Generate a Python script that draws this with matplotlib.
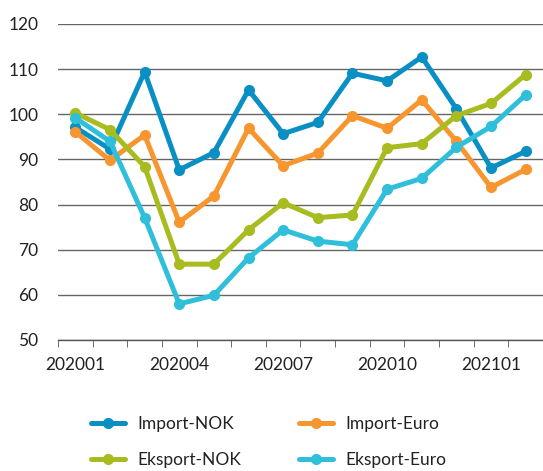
import numpy as np
import matplotlib
matplotlib.use("Agg")
import matplotlib.pyplot as plt

months = ["202001", "202002", "202003", "202004", "202005", "202006", "202007",
          "202008", "202009", "202010", "202011", "202012", "202101", "202102"]

import_nok = [97.1, 92.3, 109.4, 87.7, 91.5, 105.4, 95.7, 98.2, 109.1, 107.4, 112.7, 101.2, 88.1, 91.8]
import_euro = [96.1, 89.8, 95.4, 76.1, 81.9, 96.9, 88.6, 91.4, 99.7, 96.9, 103.2, 94.0, 83.8, 87.8]
eksport_nok = [100.3, 96.6, 88.4, 66.8, 66.8, 74.4, 80.4, 77.1, 77.7, 92.6, 93.5, 99.7, 102.4, 108.8]
eksport_euro = [99.2, 94.0, 77.1, 58.0, 59.9, 68.2, 74.4, 71.9, 71.1, 83.4, 85.8, 92.7, 97.3, 104.3]

series = [
    ("Import-NOK", import_nok, "#0a8fc4"),
    ("Import-Euro", import_euro, "#f7962f"),
    ("Eksport-NOK", eksport_nok, "#a8bc1f"),
    ("Eksport-Euro", eksport_euro, "#2fbfdb"),
]

plt.rcParams['font.family'] = ['Lato', 'DejaVu Sans']
txt = "#222222"

fig = plt.figure(figsize=(5.43, 4.71), dpi=100)
ax = fig.add_axes([58/543, 1 - 340/471, 1 - 58/543, (340 - 24)/471])

x = np.arange(len(months))
lines = {}
for name, vals, col in series:
    lines[name], = ax.plot(x, vals, color=col, lw=3.6, marker="o", ms=7, label=name,
                           solid_capstyle="round", zorder=3)

ax.set_xlim(-0.5, 13.12)
ax.set_ylim(50, 120)
ax.set_yticks(range(50, 121, 10))
ax.grid(axis="y", color="#666666", lw=1)
ax.set_axisbelow(True)

ax.set_xticks(x[::3])
ax.set_xticklabels(months[::3])
ax.set_xticks(np.arange(-0.5, 14, 1), minor=True)
ax.tick_params(axis="x", which="major", length=0, pad=12, labelsize=12.5, colors=txt)
ax.tick_params(axis="x", which="minor", length=5, color="#555555", direction="out")
ax.tick_params(axis="y", length=0, pad=14, labelsize=12.5, colors=txt)

for s in ["left", "right", "top"]:
    ax.spines[s].set_visible(False)
ax.spines["bottom"].set_color("#555555")
ax.spines["bottom"].set_linewidth(1)

# row-wise order: matplotlib fills legend columns first
order = ["Import-NOK", "Eksport-NOK", "Import-Euro", "Eksport-Euro"]
leg = fig.legend([lines[n] for n in order], order, loc="upper left",
                 bbox_to_anchor=(75/543, 1 - 400/471), ncol=2,
                 frameon=False, fontsize=12.5, handlelength=2.0, handletextpad=0.7,
                 columnspacing=3.3, labelspacing=1.15)
for t in leg.get_texts():
    t.set_color(txt)

fig.savefig("out.png", dpi=100)
